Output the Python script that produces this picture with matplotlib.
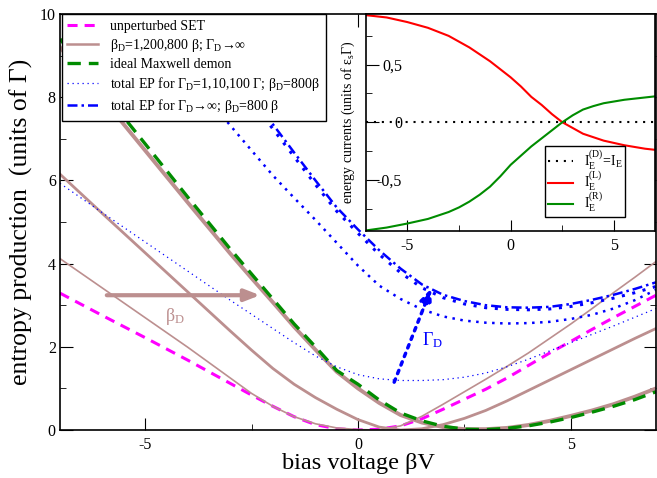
import matplotlib
matplotlib.use('Agg')
import matplotlib.pyplot as plt
from matplotlib.ticker import FixedLocator, MultipleLocator

plt.rcParams['font.family'] = ['Liberation Serif', 'DejaVu Serif']
plt.rcParams['mathtext.fontset'] = 'custom'
plt.rcParams['mathtext.rm'] = 'Liberation Serif'
plt.rcParams['mathtext.it'] = 'Liberation Serif'
plt.rcParams['axes.unicode_minus'] = False

# bias voltage grid (beta V)
bias = [-7, -6, -5, -4, -3, -2.5, -2, -1.5, -1, -0.5, 0, 0.5, 1, 1.5, 2,
        2.5, 3, 3.5, 4, 4.5, 5, 5.5, 6, 6.5, 7]

# main panel: entropy production (units of Gamma)
ep_set = [3.29, 2.75, 2.22, 1.68, 1.12, 0.84, 0.57, 0.32, 0.13, 0.03, 0.0, 0.02, 0.1,
          0.27, 0.5, 0.74, 0.98, 1.25, 1.55, 1.85, 2.13, 2.42, 2.7, 2.97, 3.24]
ep_bd1 = [4.12, 3.41, 2.7, 1.99, 1.25, 0.88, 0.57, 0.32, 0.15, 0.05, 0.01, 0.0, 0.1,
          0.33, 0.62, 0.92, 1.22, 1.53, 1.85, 2.2, 2.55, 2.92, 3.3, 3.67, 4.05]
ep_bd200 = [6.15, 5.2, 4.26, 3.32, 2.38, 1.92, 1.48, 1.1, 0.78, 0.5, 0.25, 0.07, 0.0,
            0.03, 0.13, 0.28, 0.47, 0.7, 0.95, 1.2, 1.45, 1.7, 1.95, 2.2, 2.44]
ep_bd800 = [9.2, 7.97, 6.72, 5.47, 4.24, 3.65, 3.07, 2.48, 1.93, 1.4, 1.0, 0.65, 0.36,
            0.18, 0.07, 0.02, 0.02, 0.05, 0.12, 0.22, 0.34, 0.47, 0.62, 0.8, 1.0]
ep_demon = [9.4, 8.15, 6.88, 5.6, 4.35, 3.75, 3.15, 2.55, 2.0, 1.43, 1.1, 0.72, 0.41,
            0.22, 0.09, 0.02, 0.01, 0.04, 0.1, 0.19, 0.3, 0.43, 0.57, 0.73, 0.92]
ep_g1 = [5.93, 5.22, 4.52, 3.82, 3.12, 2.78, 2.44, 2.1, 1.78, 1.52, 1.33, 1.23, 1.19,
         1.19, 1.21, 1.27, 1.37, 1.52, 1.7, 1.9, 2.1, 2.3, 2.5, 2.71, 2.92]
ep_g10 = [12.2, 11.0, 9.8, 8.55, 7.32, 6.72, 6.12, 5.58, 5.05, 4.5, 3.95, 3.47, 3.15,
          2.9, 2.73, 2.63, 2.58, 2.56, 2.57, 2.6, 2.67, 2.77, 2.92, 3.12, 3.37]
ep_g100 = [13.85, 12.55, 11.2, 9.87, 8.55, 7.9, 7.24, 6.57, 5.9, 5.26, 4.73, 4.22, 3.78,
           3.42, 3.18, 3.03, 2.94, 2.9, 2.89, 2.91, 2.97, 3.06, 3.17, 3.3, 3.45]
ep_ginf = [14.0, 12.7, 11.35, 10.0, 8.68, 8.02, 7.35, 6.67, 6.0, 5.35, 4.82, 4.32, 3.88,
           3.5, 3.25, 3.1, 3.0, 2.95, 2.94, 2.96, 3.03, 3.13, 3.25, 3.39, 3.55]

# inset: energy currents (units of eps_s Gamma)
ie_left = [0.93, 0.91, 0.87, 0.82, 0.75, 0.7, 0.65, 0.59, 0.53, 0.46, 0.39, 0.31, 0.22,
           0.15, 0.07, 0.0, -0.05, -0.1, -0.13, -0.16, -0.18, -0.2, -0.215, -0.23, -0.24]
ie_right = [-0.94, -0.915, -0.88, -0.84, -0.78, -0.74, -0.69, -0.63, -0.56, -0.47, -0.37,
            -0.29, -0.21, -0.14, -0.07, 0.0, 0.06, 0.11, 0.14, 0.165, 0.18, 0.195, 0.205,
            0.215, 0.225]
ie_demon = [0.0] * len(bias)

inset_yticks = [-0.5, 0, 0.5]
inset_yticklabels = ['-0,5', '0', '0,5']

brown = '#bc8f8f'
green = '#008c00'

fig = plt.figure(figsize=(6.57, 4.78), dpi=100)
ax = fig.add_axes([0.0913, 0.1004, 0.9072, 0.8703])

ax.plot(bias, ep_set, color='magenta', lw=2.2, ls=(0, (3.3, 2.3)), label='unperturbed SET')
ax.plot(bias, ep_bd1, color=brown, lw=1.2)
ax.plot(bias, ep_bd200, color=brown, lw=2.0)
ax.plot(bias, ep_bd800, color=brown, lw=2.8,
        label=r'$\beta_\mathrm{D}$=1,200,800 β; $\Gamma_\mathrm{D}$→∞')
ax.plot(bias, ep_demon, color=green, lw=2.4, ls=(0, (4, 2.4)), label='ideal Maxwell demon')
ax.plot(bias, ep_g1, color='blue', lw=0.9, ls=(0, (1, 3)),
        label=r'total EP for $\Gamma_\mathrm{D}$=1,10,100 Γ; $\beta_\mathrm{D}$=800β')
ax.plot(bias, ep_g10, color='blue', lw=1.8, ls=(0, (1, 2.2)))
ax.plot(bias, ep_g100, color='blue', lw=2.2, ls=(0, (1, 2.5)))
ax.plot(bias, ep_ginf, color='blue', lw=1.8, ls=(0, (4, 1.6, 1, 1.6)),
        label=r'total EP for $\Gamma_\mathrm{D}$→∞; $\beta_\mathrm{D}$=800 β')

# annotation arrows
ax.annotate('', xy=(-2.3, 3.24), xytext=(-5.9, 3.24),
            arrowprops=dict(arrowstyle='-|>,head_length=0.9,head_width=0.35',
                            color=brown, lw=3, shrinkA=0, shrinkB=0))
ax.text(-4.3, 2.73, r'$\beta_\mathrm{D}$', color=brown, fontsize=13, ha='center', va='center')
ax.annotate('', xy=(1.72, 3.40), xytext=(0.85, 1.15),
            arrowprops=dict(arrowstyle='-|>,head_length=0.8,head_width=0.35',
                            color='blue', lw=2.5, ls=':', shrinkA=0, shrinkB=0))
ax.text(1.75, 2.16, r'$\Gamma_\mathrm{D}$', color='blue', fontsize=13, ha='center', va='center')

ax.set_xlim(-7, 7)
ax.set_ylim(0, 10)
ax.xaxis.set_major_locator(FixedLocator([-5, 0, 5]))
ax.xaxis.set_minor_locator(FixedLocator([-2.5, 2.5]))
ax.yaxis.set_major_locator(MultipleLocator(2))
ax.yaxis.set_minor_locator(MultipleLocator(1))
ax.tick_params(which='both', direction='in', top=True, right=True, labelsize=11.5)
ax.tick_params(axis='x', which='major', length=9, pad=5)
ax.tick_params(axis='y', which='major', length=9, pad=3)
ax.tick_params(which='minor', length=4.5)
for s in ax.spines.values():
    s.set_linewidth(1.2)
ax.set_xlabel('bias voltage βV', fontsize=17.5, labelpad=0)
ax.set_ylabel('entropy production  (units of Γ)', fontsize=18.5, labelpad=5)

leg = ax.legend(loc='upper left', bbox_to_anchor=(0.003, 1.0), borderaxespad=0,
                fontsize=10, handlelength=2.2, handletextpad=0.9, labelspacing=0.3,
                fancybox=False, framealpha=1, edgecolor='black', borderpad=0.4)
leg.get_frame().set_linewidth(1.0)
leg.set_zorder(5)
leg.get_lines()[1].set_linewidth(1.8)

# inset
axi = fig.add_axes([0.557, 0.5167, 0.4405, 0.454])
axi.set_facecolor('white')
axi.plot(bias, ie_demon, color='black', lw=1.5, ls=(0, (1, 2.8)),
         label=r'$\mathrm{I}_\mathrm{E}^{(D)}$=$\mathrm{I}_\mathrm{E}$')
axi.plot(bias, ie_left, color='red', lw=1.5, label=r'$\mathrm{I}_\mathrm{E}^{(L)}$')
axi.plot(bias, ie_right, color=green, lw=1.5, label=r'$\mathrm{I}_\mathrm{E}^{(R)}$')
axi.set_xlim(-7, 7)
axi.set_ylim(-0.945, 0.94)
axi.xaxis.set_major_locator(FixedLocator([-5, 0, 5]))
axi.xaxis.set_minor_locator(FixedLocator([-2.5, 2.5]))
axi.set_yticks(inset_yticks)
axi.set_yticklabels(inset_yticklabels)
axi.yaxis.set_minor_locator(FixedLocator([-0.75, -0.25, 0.25, 0.75]))
axi.tick_params(which='both', direction='in', labelsize=11.5)
axi.tick_params(axis='x', which='major', length=8, pad=5)
axi.tick_params(axis='y', which='major', length=9.5, pad=-26)
axi.tick_params(which='minor', length=4)
for s in axi.spines.values():
    s.set_linewidth(1.2)
axi.set_ylabel(r'energy currents (units of $\varepsilon_\mathrm{s}\Gamma$)', fontsize=10, labelpad=3)
legi = axi.legend(loc='lower right', bbox_to_anchor=(0.896, 0.065), borderaxespad=0,
                  fontsize=10, handlelength=1.8, handletextpad=0.8, labelspacing=-0.15,
                  fancybox=False, framealpha=1, edgecolor='black', borderpad=0.2)
legi.get_frame().set_linewidth(1.0)

fig.savefig('out.png', dpi=100)
